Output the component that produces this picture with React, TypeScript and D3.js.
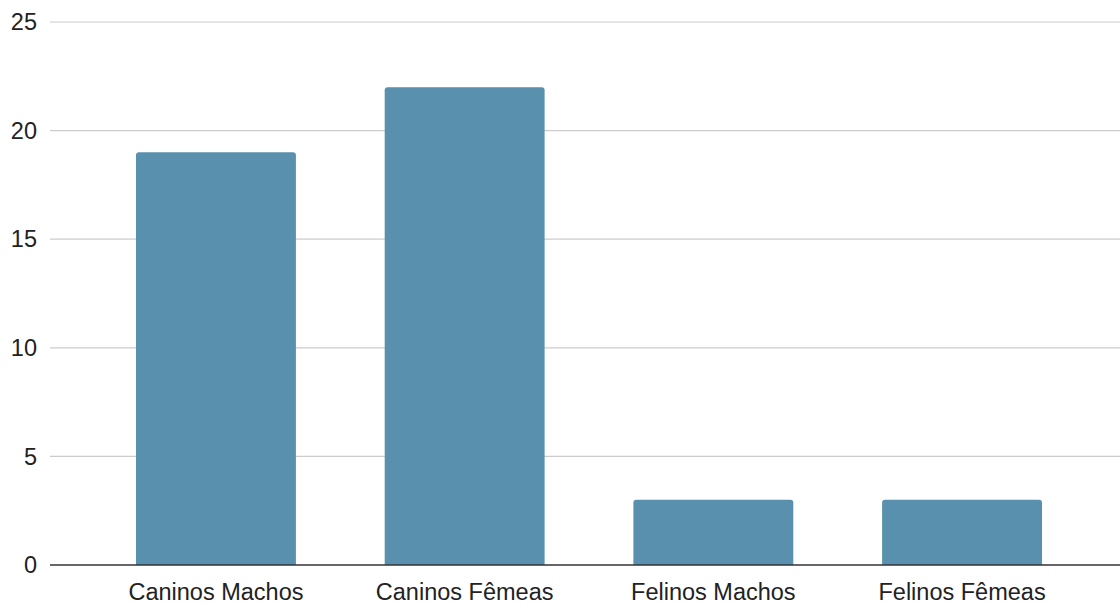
import React from "react";
import * as d3 from "d3";

const categories = ["Caninos Machos", "Caninos Fêmeas", "Felinos Machos", "Felinos Fêmeas"];
const values = [19, 22, 3, 3];
const yTicks = [0, 5, 10, 15, 20, 25];

const W = 1120;
const H = 605;

export default function App() {
  const x = d3
    .scaleBand<string>()
    .domain(categories)
    .range([91.6, 1086.4])
    .paddingInner(0.357)
    .paddingOuter(0.1785);
  const y = d3.scaleLinear().domain([0, 25]).range([565, 22]);
  const r = 3;
  const barPath = (x0: number, w: number, top: number, bottom: number) =>
    `M${x0},${bottom}V${top + r}Q${x0},${top} ${x0 + r},${top}H${x0 + w - r}Q${x0 + w},${top} ${x0 + w},${top + r}V${bottom}Z`;

  return (
    <svg
      width={W}
      height={H}
      style={{ position: "absolute", left: 0, top: 0, background: "#fff" }}
      fontFamily="'Liberation Sans', Arial, sans-serif"
    >
      {yTicks.map((t) => (
        <g key={t}>
          {t !== 0 && (
            <line x1={50} x2={W} y1={y(t)} y2={y(t)} stroke="#cccccc" strokeWidth={1.2} />
          )}
          <text x={37} y={y(t)} dy="0.35em" textAnchor="end" fontSize={23.5} fill="#222">
            {t}
          </text>
        </g>
      ))}
      {categories.map((c, i) => (
        <path
          key={c}
          d={barPath(x(c)!, x.bandwidth(), y(values[i]), y(0))}
          fill="#5890ad"
        />
      ))}
      <line x1={50} x2={W} y1={y(0)} y2={y(0)} stroke="#333" strokeWidth={1.5} />
      {categories.map((c) => (
        <text
          key={c}
          x={x(c)! + x.bandwidth() / 2}
          y={600}
          textAnchor="middle"
          fontSize={23.5}
          fill="#222"
        >
          {c}
        </text>
      ))}
    </svg>
  );
}
